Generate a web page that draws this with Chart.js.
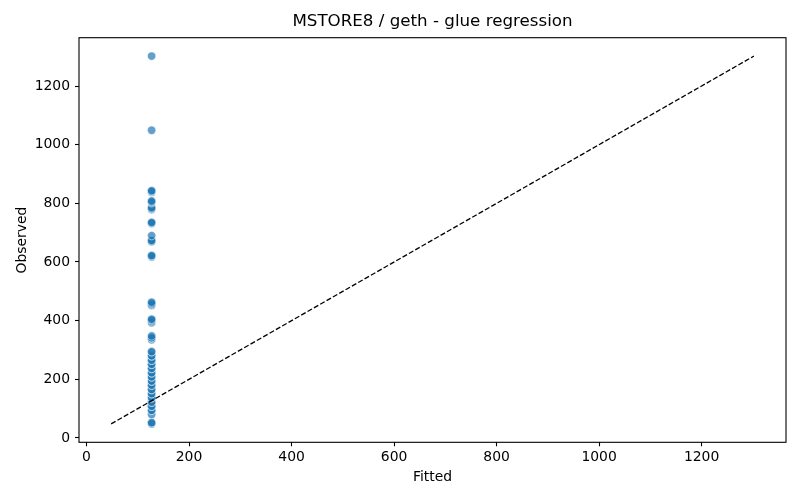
<!DOCTYPE html>
<html><head><meta charset="utf-8">
<script src="https://cdn.jsdelivr.net/npm/chart.js@4.4.0/dist/chart.umd.min.js"></script>
<style>html,body{margin:0;padding:0;background:#fff}#wrap{width:800px;height:500px}</style>
</head><body><div id="wrap"><canvas id="c" width="800" height="500"></canvas></div>
<script>
const titleText = "MSTORE8 / geth - glue regression";
const xLabel = "Fitted";
const yLabel = "Observed";
const fittedValues = [
  127,127,127,127,127,127,127,127,127,127,
  127,127,127,127,127,127,127,127,127,127,
  127,127,127,127,127,127,127,127,127,127,
  127,127,127,127,127,127,127,127,127,127,
  127,127,127,127,127,127,127,127,127,127,
  127,127,127,127,127,127,127,127,127,127,
  127,127,127,127,127,127,127];
const observedValues = [
  48,52,52,80,94,94,108,108,122,122,
  137,137,151,151,165,165,180,180,194,194,
  208,208,222,222,237,237,251,251,265,265,
  280,280,294,294,335,340,342,348,393,398,
  402,405,452,455,459,463,617,620,622,669,
  671,673,690,731,733,735,779,782,785,802,
  805,808,838,841,843,1049,1302];
const refLine = [48, 1302];
const xTicks = [0,200,400,600,800,1000,1200];
const yTicks = [0,200,400,600,800,1000,1200];
const axisMin = -14.7, axisMax = 1364.7;

const FONT = "'DejaVu Sans', sans-serif";
Chart.defaults.font.family = FONT;
Chart.defaults.color = '#000';

const framePlugin = {
  id:'frame',
  afterDraw(chart){
    const {ctx, chartArea:a} = chart;
    ctx.save();
    ctx.strokeStyle = '#000'; ctx.lineWidth = 1.1;
    ctx.strokeRect(a.left, a.top, a.right - a.left, a.bottom - a.top);
    ctx.fillStyle = '#000';
    ctx.font = "16.7px " + FONT;
    ctx.textAlign = 'center'; ctx.textBaseline = 'middle';
    ctx.fillText(titleText, (a.left + a.right)/2, 22);
    ctx.restore();
  }
};

const tickCommon = {tickLength:4, tickColor:'#000', tickWidth:1.1, drawOnChartArea:false};
const plainLabel = v => String(v);

new Chart(document.getElementById('c'), {
  type:'scatter',
  data:{datasets:[
    {type:'line', data: refLine.map(v=>({x:v,y:v})), borderColor:'#000', borderWidth:1.3,
     borderDash:[5.1,2.2], pointRadius:0, fill:false, tension:0},
    {data: observedValues.map((v,i)=>({x:fittedValues[i], y:v})),
     backgroundColor:'rgba(31,119,180,0.7)', borderColor:'rgba(255,255,255,0.7)',
     borderWidth:0.75, pointRadius:4.2, pointHoverRadius:4.2}
  ]},
  options:{
    responsive:false, animation:false, devicePixelRatio:1,
    layout:{padding:{top:37.7, right:14, left:0, bottom:0}},
    plugins:{legend:{display:false}, tooltip:{enabled:false}, title:{display:false}},
    scales:{
      x:{type:'linear', min:axisMin, max:axisMax,
        afterBuildTicks:s=>{s.ticks = xTicks.map(v=>({value:v}));},
        afterFit:s=>{s.height = 57.7;},
        grid:tickCommon, border:{display:false},
        ticks:{font:{size:13.9}, padding:3, maxRotation:0, autoSkip:false, color:'#000', callback:plainLabel},
        title:{display:true, text:xLabel, font:{size:13.9}, color:'#000', padding:{top:0, bottom:14.7}}},
      y:{type:'linear', min:axisMin, max:axisMax,
        afterBuildTicks:s=>{s.ticks = yTicks.map(v=>({value:v}));},
        afterFit:s=>{s.width = 79;},
        grid:tickCommon, border:{display:false},
        ticks:{font:{size:13.9}, padding:5, autoSkip:false, color:'#000', callback:plainLabel},
        title:{display:true, text:yLabel, font:{size:13.9}, color:'#000', padding:{top:14, bottom:0}}}
    }
  },
  plugins:[framePlugin]
});
</script></body></html>
